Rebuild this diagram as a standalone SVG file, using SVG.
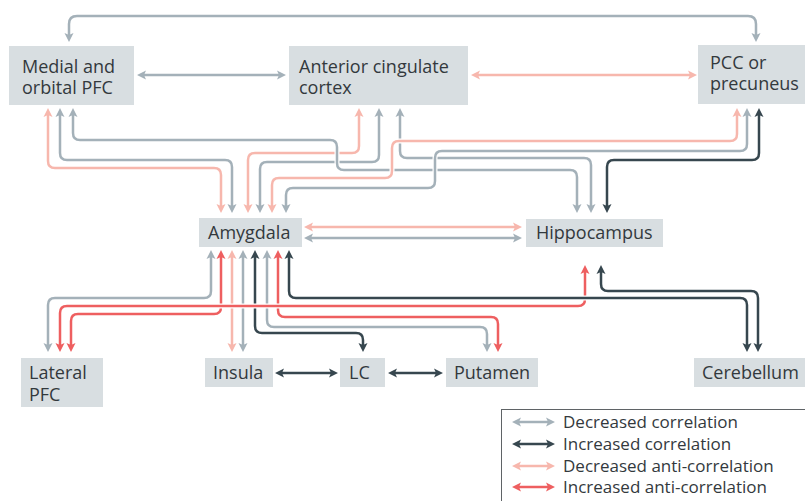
<svg xmlns="http://www.w3.org/2000/svg" xmlns:xlink="http://www.w3.org/1999/xlink" width="805" height="501" viewBox="0 0 805 501">
<style>
.box{fill:#d8dee1}
.t{font-family:"Open Sans","Noto Sans","DejaVu Sans",sans-serif;font-size:18px;fill:#33393d}
.lt{font-family:"Open Sans","Noto Sans","DejaVu Sans",sans-serif;font-size:17px;fill:#33393d}
.c{fill:none;stroke-width:2.5}
.h{fill:none;stroke:#fff;stroke-width:5}
.g{stroke:#a4b1b9;marker-start:url(#mg);marker-end:url(#mg)}
.d{stroke:#37474f;marker-start:url(#md);marker-end:url(#md)}
.p{stroke:#f7b7ad;marker-start:url(#mp);marker-end:url(#mp)}
.r{stroke:#ee5f60;marker-start:url(#mr);marker-end:url(#mr)}
</style>
<defs>
<marker id="mg" markerUnits="userSpaceOnUse" markerWidth="12" markerHeight="12" viewBox="-10 -6 12 12" refX="-6" refY="0" orient="auto-start-reverse"><path d="M0,0 L-9,-4.5 L-7,0 L-9,4.5 Z" fill="#a4b1b9"/></marker>
<marker id="md" markerUnits="userSpaceOnUse" markerWidth="12" markerHeight="12" viewBox="-10 -6 12 12" refX="-6" refY="0" orient="auto-start-reverse"><path d="M0,0 L-9,-4.5 L-7,0 L-9,4.5 Z" fill="#37474f"/></marker>
<marker id="mp" markerUnits="userSpaceOnUse" markerWidth="12" markerHeight="12" viewBox="-10 -6 12 12" refX="-6" refY="0" orient="auto-start-reverse"><path d="M0,0 L-9,-4.5 L-7,0 L-9,4.5 Z" fill="#f7b7ad"/></marker>
<marker id="mr" markerUnits="userSpaceOnUse" markerWidth="12" markerHeight="12" viewBox="-10 -6 12 12" refX="-6" refY="0" orient="auto-start-reverse"><path d="M0,0 L-9,-4.5 L-7,0 L-9,4.5 Z" fill="#ee5f60"/></marker>
<path id="c1" d="M69,36 V24 Q69,16 77,16 H748 Q756,16 756,24 V36"/>
<path id="c2" d="M143,75 H280"/>
<path id="c3" d="M477,75 H691"/>
<path id="c4" d="M310,227 H516"/>
<path id="c5" d="M310,238 H516"/>
<path id="c6" d="M48,114 V161 Q48,168 55,168 H214 Q221,168 221,175 V207"/>
<path id="c7" d="M60,114 V153 Q60,160 67,160 H225 Q232,160 232,167 V207"/>
<path id="c8" d="M73,114 V133 Q73,140 80,140 H330 Q337,140 337,147 V163 Q337,170 344,170 H570 Q577,170 577,177 V207"/>
<path id="c9" d="M359,114 V146 Q359,153 352,153 H255 Q248,153 248,160 V207"/>
<path id="c10" d="M379,114 V155 Q379,162 372,162 H267 Q260,162 260,169 V207"/>
<path id="c11" d="M400,114 V151 Q400,158 407,158 H584 Q591,158 591,165 V207"/>
<path id="c12" d="M737,114 V134 Q737,141 730,141 H399 Q392,141 392,148 V171 Q392,178 385,178 H279 Q272,178 272,185 V207"/>
<path id="c13" d="M747,114 V144 Q747,151 740,151 H442 Q435,151 435,158 V181 Q435,188 428,188 H293 Q286,188 286,195 V207"/>
<path id="c14" d="M759,114 V153 Q759,160 752,160 H614 Q607,160 607,167 V207"/>
<path id="c17" d="M60,346 V313 Q60,306 67,306 H578 Q585,306 585,299 V271"/>
<path id="c15" d="M211,256 V291 Q211,298 204,298 H55 Q48,298 48,305 V346"/>
<path id="c16" d="M221,256 V307 Q221,314 214,314 H78 Q71,314 71,321 V346"/>
<path id="c18" d="M232,256 V346"/>
<path id="c19" d="M243,256 V346"/>
<path id="c20" d="M255,256 V326 Q255,333 262,333 H356 Q363,333 363,340 V346"/>
<path id="c21" d="M267,256 V320 Q267,327 274,327 H480 Q487,327 487,334 V346"/>
<path id="c22" d="M278,256 V310 Q278,317 285,317 H491 Q498,317 498,324 V346"/>
<path id="c23" d="M289,256 V291 Q289,298 296,298 H740 Q747,298 747,305 V346"/>
<path id="c24" d="M601,271 V284 Q601,291 608,291 H751 Q758,291 758,298 V346"/>
<path id="c25" d="M281,373 H332"/>
<path id="c26" d="M394,373 H437"/>
</defs>
<g id="nodes">
<g id="medial-pfc"><rect class="box" x="9" y="46" width="125" height="59"/><text class="t" x="22" y="73">Medial and</text><text class="t" x="22" y="94">orbital PFC</text></g>
<g id="acc"><rect class="box" x="289" y="46" width="179" height="59"/><text class="t" x="299" y="73">Anterior cingulate</text><text class="t" x="299" y="94">cortex</text></g>
<g id="pcc"><rect class="box" x="698" y="45" width="107" height="59"/><text class="t" x="710" y="69">PCC or</text><text class="t" x="710" y="90">precuneus</text></g>
<g id="amygdala"><rect class="box" x="199" y="218" width="103" height="29"/><text class="t" x="208" y="239">Amygdala</text></g>
<g id="hippocampus"><rect class="box" x="526" y="219" width="137" height="28"/><text class="t" x="536" y="239">Hippocampus</text></g>
<g id="lateral-pfc"><rect class="box" x="21" y="358" width="82" height="49"/><text class="t" x="29" y="379">Lateral</text><text class="t" x="29" y="401">PFC</text></g>
<g id="insula"><rect class="box" x="205" y="358" width="68" height="29"/><text class="t" x="213" y="379">Insula</text></g>
<g id="lc"><rect class="box" x="340" y="358" width="45" height="29"/><text class="t" x="349" y="379">LC</text></g>
<g id="putamen"><rect class="box" x="446" y="358" width="92" height="29"/><text class="t" x="454" y="379">Putamen</text></g>
<g id="cerebellum"><rect class="box" x="694" y="358" width="111" height="29"/><text class="t" x="702" y="379">Cerebellum</text></g>
</g>
<g id="connectors">
<use href="#c1" class="h"/><use href="#c1" class="c g"/>
<use href="#c2" class="c g"/>
<use href="#c3" class="c p"/>
<use href="#c4" class="c p"/>
<use href="#c5" class="c g"/>
<use href="#c6" class="h"/><use href="#c6" class="c p"/>
<use href="#c7" class="h"/><use href="#c7" class="c g"/>
<use href="#c9" class="h"/><use href="#c9" class="c p"/>
<use href="#c10" class="h"/><use href="#c10" class="c g"/>
<use href="#c8" class="h"/><use href="#c8" class="c g"/>
<use href="#c11" class="h"/><use href="#c11" class="c g"/>
<use href="#c14" class="h"/><use href="#c14" class="c d"/>
<use href="#c13" class="h"/><use href="#c13" class="c g"/>
<use href="#c12" class="h"/><use href="#c12" class="c p"/>
<use href="#c15" class="h"/><use href="#c15" class="c g"/>
<use href="#c16" class="h"/><use href="#c16" class="c r"/>
<use href="#c18" class="h"/><use href="#c18" class="c p"/>
<use href="#c19" class="h"/><use href="#c19" class="c g"/>
<use href="#c20" class="h"/><use href="#c20" class="c d"/>
<use href="#c21" class="h"/><use href="#c21" class="c g"/>
<use href="#c22" class="h"/><use href="#c22" class="c r"/>
<use href="#c17" class="h"/><use href="#c17" class="c r"/>
<use href="#c24" class="h"/><use href="#c24" class="c d"/>
<use href="#c23" class="h"/><use href="#c23" class="c d"/>
<use href="#c25" class="c d"/>
<use href="#c26" class="c d"/>
</g>
<g id="legend">
<rect x="501.5" y="409.5" width="310" height="100" fill="#fff" stroke="#5f6366" stroke-width="1"/>
<path class="c g" d="M518,422 H549"/>
<path class="c d" d="M518,444 H549"/>
<path class="c p" d="M518,466 H549"/>
<path class="c r" d="M518,487 H549"/>
<text class="lt" x="563" y="428">Decreased correlation</text>
<text class="lt" x="563" y="450">Increased correlation</text>
<text class="lt" x="563" y="472">Decreased anti-correlation</text>
<text class="lt" x="563" y="493">Increased anti-correlation</text>
</g>
</svg>
